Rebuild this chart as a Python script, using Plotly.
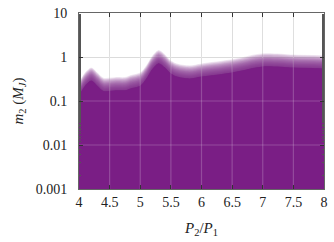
import numpy as np
import plotly.graph_objects as go

# Data
period_ratio = [4.0, 4.1, 4.2, 4.3, 4.4, 4.6, 4.75, 4.85, 5.0, 5.1, 5.2, 5.3, 5.4, 5.5, 5.6, 5.8, 6.0, 6.5, 7.0, 7.5, 8.0]
mass_limit = [0.20, 0.33, 0.43, 0.33, 0.25, 0.26, 0.26, 0.29, 0.33, 0.48, 0.80, 1.07, 0.86, 0.62, 0.53, 0.48, 0.53, 0.66, 0.90, 0.85, 0.81]

x_ticks = [4, 4.5, 5, 5.5, 6, 6.5, 7, 7.5, 8]
x_tick_labels = ["4", "4.5", "5", "5.5", "6", "6.5", "7", "7.5", "8"]
y_ticks = [0.001, 0.01, 0.1, 1, 10]
y_tick_labels = ["0.001", "0.01", "0.1", "1", "10"]

PURPLE = "rgba(122,30,134,{a})"

fig = go.Figure()

base = np.array(mass_limit)
xs = list(period_ratio)

def add_fill(scale, alpha):
    fig.add_trace(go.Scatter(
        x=xs, y=list(base * scale),
        mode="lines", fill="tozeroy",
        line=dict(width=0, shape="spline", smoothing=0.8),
        fillcolor=PURPLE.format(a=alpha),
        hoverinfo="skip", showlegend=False))

# solid core
add_fill(10 ** -0.17, 1.0)
# fuzzy top edge
for k in np.linspace(-0.16, 0.13, 22):
    add_fill(10 ** k, 0.09)

# grid lines drawn over the fill (light on purple)
for t in x_ticks[1:-1]:
    fig.add_trace(go.Scatter(x=[t, t], y=[1e-3, 10], mode="lines",
                             line=dict(color="rgba(255,255,255,0.2)", width=1.2),
                             hoverinfo="skip", showlegend=False))
for t in y_ticks[1:-1]:
    fig.add_trace(go.Scatter(x=[4, 8], y=[t, t], mode="lines",
                             line=dict(color="rgba(255,255,255,0.2)", width=1.2),
                             hoverinfo="skip", showlegend=False))

fig.update_layout(
    width=334, height=242,
    margin=dict(l=79, r=10, t=13, b=53, autoexpand=False),
    paper_bgcolor="white", plot_bgcolor="white",
    font=dict(family="Liberation Serif, DejaVu Serif, serif", size=14, color="#222"),
    showlegend=False,
)
fig.update_xaxes(
    range=[4, 8], tickvals=x_ticks, ticktext=x_tick_labels,
    showgrid=True, gridcolor="#d8d8d8", gridwidth=1,
    ticks="inside", ticklen=4, tickcolor="#333", tickwidth=1,
    showline=True, linecolor="#666", linewidth=1, mirror="ticks",
    zeroline=False, automargin=False, ticklabeloverflow="allow",
    title=dict(text="<i>P</i><sub>2</sub>/<i>P</i><sub>1</sub>", font=dict(size=15), standoff=13),
)
fig.update_yaxes(
    type="log", range=[-3, 1], tickvals=y_ticks, ticktext=y_tick_labels,
    showgrid=True, gridcolor="#d8d8d8", gridwidth=1,
    ticks="inside", ticklen=4, tickcolor="#333", tickwidth=1,
    minor=dict(ticks="inside", ticklen=2, tickcolor="#555", showgrid=False),
    showline=True, linecolor="#666", linewidth=1, mirror="ticks",
    zeroline=False, automargin=False, ticklabelstandoff=8,
    title=dict(text="<i>m</i><sub>2</sub> (<i>M<sub>J</sub></i>)", font=dict(size=15), standoff=8),
)

fig.write_html("out.html", config={"displayModeBar": False},
               post_script="document.body.style.margin='0';")
